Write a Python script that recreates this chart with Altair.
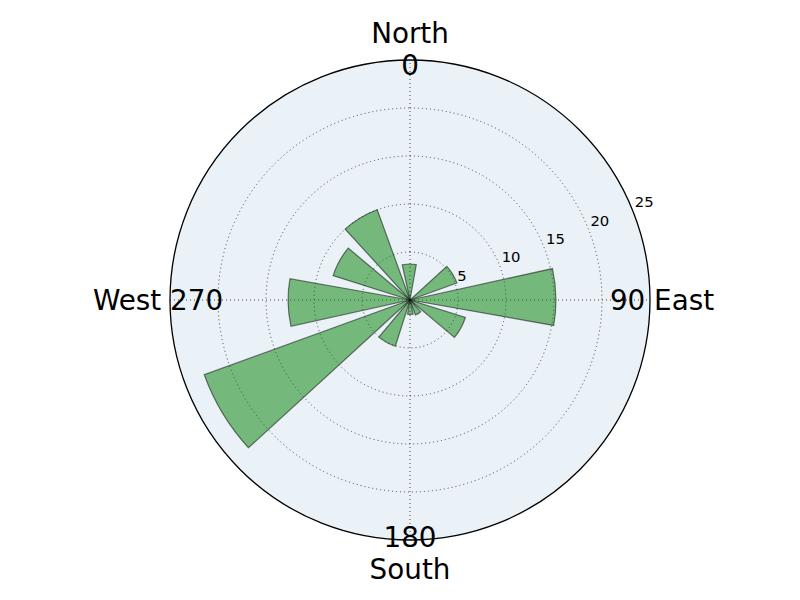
import math
import altair as alt
import pandas as pd

# ---- data ----
directions = [0, 30, 60, 90, 120, 150, 180, 210, 240, 270, 300, 330]
values = [3.75, 0.0, 5.2, 15.2, 6.05, 1.65, 1.5, 5.05, 22.8, 12.7, 8.4, 10.0]
bar_width = 22.5
bar_offset = -1.2
ring_values = [5, 10, 15, 20]
r_max = 25
radial_tick_values = [5, 10, 15, 20, 25]
radial_tick_labels = ["5", "10", "15", "20", "25"]
compass_angles = [0, 90, 180, 270]
compass_labels = ["North\n0", "90 East", "180\nSouth", "West 270"]
radial_label_angle = 67.5

# ---- layout / style ----
W, H = 784, 584
R_PX = 240
CX, CY = 402, 292
BG = "#EAF1F7"
FONT = "DejaVu Sans"
FS = 27.8
LH = 32.5

bars = pd.DataFrame({
    "dir": directions,
    "value": values,
    "start": [d + bar_offset - bar_width / 2 for d in directions],
    "end": [d + bar_offset + bar_width / 2 for d in directions],
})
rings = pd.DataFrame({"r": ring_values})
outer = pd.DataFrame({"r": [r_max]})
spokes = pd.DataFrame({
    "x": [0, -r_max], "y": [-r_max, 0], "x2": [0, r_max], "y2": [r_max, 0]
})
rticks = pd.DataFrame({"r": radial_tick_values, "label": radial_tick_labels,
                       "a": [radial_label_angle] * len(radial_tick_values)})
compass = pd.DataFrame({"a": compass_angles, "label": compass_labels,
                        "r": [r_max] * len(compass_angles)})
compass["lines"] = compass["label"].str.count("\n") + 1

rscale = alt.Scale(type="linear", domain=[0, r_max], range=[0, R_PX], zero=True)
tscale = alt.Scale(domain=[0, 360], range=[0, 2 * math.pi])
xscale = alt.Scale(domain=[-r_max, r_max], range=[CX - R_PX, CX + R_PX])
yscale = alt.Scale(domain=[-r_max, r_max], range=[CY + R_PX, CY - R_PX])

center = dict(x=alt.value(CX), y=alt.value(CY))


def rad(field):
    return alt.Radius(field, scale=rscale, stack=False)


def th(field):
    return alt.Theta(field, scale=tscale, stack=False)


disc = alt.Chart(outer).mark_arc(fill=BG, strokeWidth=0).encode(
    radius=rad("r:Q"),
    theta=alt.value(0), theta2=alt.value(2 * math.pi), **center,
)

grid = alt.Chart(rings).mark_arc(
    fillOpacity=0, stroke="#333333", strokeWidth=0.9, strokeDash=[1, 3]
).encode(
    radius=rad("r:Q"),
    theta=alt.value(0), theta2=alt.value(2 * math.pi), **center,
)

spoke_layer = alt.Chart(spokes).mark_rule(
    stroke="#333333", strokeWidth=0.9, strokeDash=[1, 3]
).encode(
    x=alt.X("x:Q", scale=xscale, axis=None),
    y=alt.Y("y:Q", scale=yscale, axis=None),
    x2="x2:Q", y2="y2:Q",
)

bar_layer = alt.Chart(bars).mark_arc(
    fill="green", fillOpacity=0.5, stroke="black", strokeOpacity=0.5, strokeWidth=1.2
).encode(
    theta=th("start:Q"),
    theta2="end:Q",
    radius=rad("value:Q"),
    **center,
)

outline = alt.Chart(outer).mark_arc(
    fillOpacity=0, stroke="black", strokeWidth=1.3
).encode(
    radius=rad("r:Q"),
    theta=alt.value(0), theta2=alt.value(2 * math.pi), **center,
)

rtick_layer = alt.Chart(rticks).mark_text(
    font=FONT, fontSize=14.8, align="left", baseline="middle", dx=3, dy=-5, color="black"
).encode(
    theta=th("a:Q"),
    radius=rad("r:Q"),
    text="label:N",
    **center,
)

compass_single = alt.Chart(compass).transform_filter("datum.lines == 1").mark_text(
    font=FONT, fontSize=FS, align="center", baseline="middle",
    radiusOffset=12, dy=2, color="black"
).encode(
    theta=th("a:Q"), radius=rad("r:Q"), text="label:N", **center,
)

compass_double = alt.Chart(compass).transform_filter("datum.lines == 2").mark_text(
    font=FONT, fontSize=FS, align="center", baseline="middle", lineBreak="\n",
    lineHeight=LH, radiusOffset=12, dy=-LH / 2 + 3, color="black"
).encode(
    theta=th("a:Q"), radius=rad("r:Q"), text="label:N", **center,
)

chart = alt.layer(
    disc, grid, spoke_layer, bar_layer, outline, rtick_layer,
    compass_single, compass_double
).properties(
    width=W, height=H,
    padding=0,
    autosize=alt.AutoSizeParams(type="none"),
).configure_view(strokeWidth=0)

chart.save("out.html", embed_options={"renderer": "svg", "actions": False})
